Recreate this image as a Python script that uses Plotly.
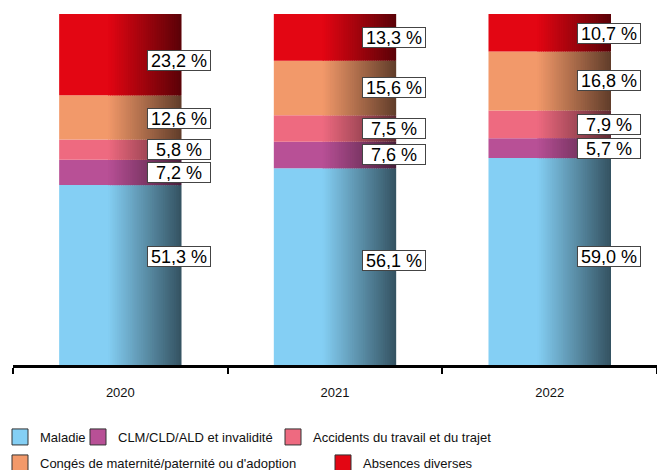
import plotly.graph_objects as go

years = ["2020", "2021", "2022"]
series_names = ["Maladie", "CLM/CLD/ALD et invalidité", "Accidents du travail et du trajet",
                "Congés de maternité/paternité ou d'adoption", "Absences diverses"]
maladie = [51.3, 56.1, 59.0]
clm = [7.2, 7.6, 5.7]
accidents = [5.8, 7.5, 7.9]
conges = [12.6, 15.6, 16.8]
absences = [23.2, 13.3, 10.7]

values = [maladie, clm, accidents, conges, absences]
colors = ["#84CFF4", "#B85096", "#EE6A80", "#F2996A", "#E30613"]

# legend layout (style): one legend per entry, (left px, centre-y px)
legend_ids = ["legend", "legend2", "legend3", "legend4", "legend5"]
legend_pos = [(-6, 437), (78, 437), (273, 437), (-6, 463), (323, 463)]
label_yshift = [[19, 6, 5], [0, 0, 0], [0, 0, 0], [-1, 0, 0], [-6, 0, -1]]

W = 0.57
SOLID = 0.40
N = 40
DARK = 0.40
FW, FH = 657, 470


def hex_rgb(h):
    h = h.lstrip("#")
    return tuple(int(h[i:i + 2], 16) for i in (0, 2, 4))


def shade(h, f):
    r, g, b = hex_rgb(h)
    return f"rgb({int(r * f)},{int(g * f)},{int(b * f)})"


bases = []
acc = [0.0] * len(years)
for v in values:
    bases.append(list(acc))
    acc = [a + b for a, b in zip(acc, v)]

fig = go.Figure()
for s, (v, c, base) in enumerate(zip(values, colors, bases)):
    fig.add_trace(go.Bar(x=years, y=v, base=base, width=W * SOLID + 0.005, offset=-W / 2,
                         marker=dict(color=c, line=dict(width=0)), showlegend=False,
                         hoverinfo="skip"))
    gw = W * (1 - SOLID) / N
    for i in range(N):
        f = 1 - (1 - DARK) * (i + 0.5) / N
        wi = gw * 1.6 if i < N - 1 else gw
        fig.add_trace(go.Bar(x=years, y=v, base=base, width=wi,
                             offset=-W / 2 + W * SOLID + i * gw,
                             marker=dict(color=shade(c, f), line=dict(width=0)),
                             showlegend=False, hoverinfo="skip"))

for name, v, c, lg in zip(series_names, values, colors, legend_ids):
    fig.add_trace(go.Scatter(x=years, y=v, mode="markers", name=name, legend=lg,
                             marker=dict(symbol="square", size=16, color=c,
                                         line=dict(width=1, color="#333333")),
                             xaxis="x2", yaxis="y2", hoverinfo="skip"))

for s, (v, base) in enumerate(zip(values, bases)):
    for j, yr in enumerate(years):
        fig.add_annotation(x=j, y=base[j] + v[j] / 2, xref="x", yref="y",
                           text=f"{v[j]:.1f}".replace(".", ",") + " %",
                           showarrow=False, xanchor="left", yanchor="middle",
                           xshift=27, yshift=label_yshift[s][j],
                           width=60, height=17, align="center",
                           font=dict(family="Liberation Sans, Arial", size=18, color="#000000"),
                           bgcolor="white", bordercolor="#444444", borderwidth=1, borderpad=1)

legends = {}
for lg, (lx, ly) in zip(legend_ids, legend_pos):
    legends[lg] = dict(orientation="h", xanchor="left", yanchor="middle", xref="container",
                       yref="container", x=lx / FW, y=1 - ly / FH,
                       font=dict(size=13, color="#111111"), itemsizing="trace",
                       bgcolor="rgba(0,0,0,0)")

fig.update_layout(
    width=FW, height=FH,
    margin=dict(l=13, r=0, t=14, b=105, autoexpand=False),
    barmode="overlay",
    plot_bgcolor="white", paper_bgcolor="white",
    font=dict(family="Liberation Sans, Arial", size=13, color="#111111"),
    xaxis=dict(type="category", range=[-0.5, 2.5], showline=True, linecolor="black",
               linewidth=2.5, ticks="outside", tickson="boundaries", ticklen=6,
               tickwidth=2, tickcolor="black", showgrid=False, zeroline=False,
               ticklabelstandoff=14, tickfont=dict(size=13, color="#111111")),
    yaxis=dict(range=[0, 100.1], visible=False),
    xaxis2=dict(overlaying="x", visible=False, range=[10, 11]),
    yaxis2=dict(overlaying="y", visible=False, range=[1000, 1001]),
    showlegend=True,
    **legends,
)

fig.write_html("out.html", config={"displayModeBar": False},
               post_script="document.body.style.margin='0';")
